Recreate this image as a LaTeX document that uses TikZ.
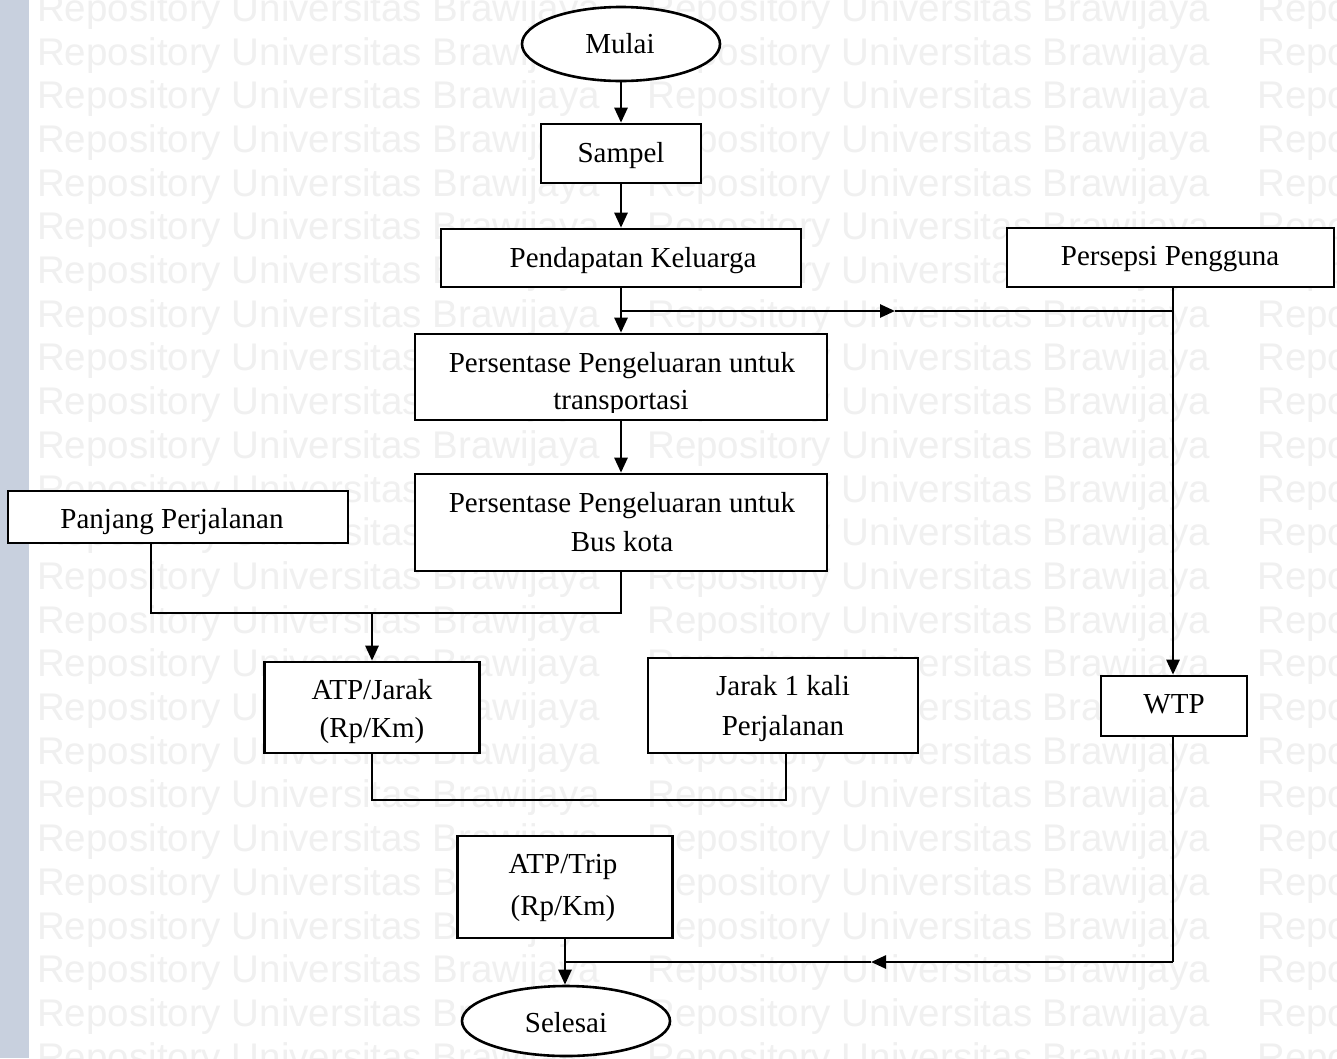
\documentclass[tikz,border=0pt]{standalone}
\usepackage{fontspec}
\setmainfont{Liberation Serif}
\newfontfamily\wmfont{Liberation Sans}
\usetikzlibrary{arrows.meta,shapes.geometric}
\definecolor{wmgray}{RGB}{240,240,240}
\definecolor{stripblue}{RGB}{200,208,222}
\begin{document}
\begin{tikzpicture}[x=1pt,y=-1pt,
  box/.style={draw, line width=2.6pt, fill=white, inner sep=0pt},
  term/.style={ellipse, draw, line width=2.6pt, fill=white, inner sep=0pt},
  lbl/.style={anchor=base, inner sep=0pt, font=\fontsize{29}{35}\selectfont},
  flow/.style={line width=2.6pt, -{Triangle[length=15pt,width=13pt]}},
  link/.style={line width=1.4pt},
  wm/.style={anchor=base west, inner sep=0pt, text=wmgray, font=\wmfont\fontsize{38.5}{40}\selectfont}]

% page and background watermark
\useasboundingbox (0,0) rectangle (1337,1058);
\fill[white] (0,0) rectangle (1337,1058);
\fill[stripblue] (0,0) rectangle (29,1058);
\foreach \r in {0,...,24}
  \foreach \c in {0,1,2}
    \node[wm] (wm-\r-\c) at ({37+610*\c},{21.3+43.7*\r}) {Repository Universitas Brawijaya};

% shapes
\node[term, minimum width=198pt, minimum height=74pt] (mulai) at (621,44) {};
\node[box, minimum width=160pt, minimum height=59pt] (sampel) at (621,153.5) {};
\node[box, minimum width=360pt, minimum height=58pt] (pend) at (621,258) {};
\node[box, minimum width=327pt, minimum height=59pt] (pers) at (1170.5,257.5) {};
\node[box, minimum width=412pt, minimum height=86pt] (tr) at (621,377) {};
\node[box, minimum width=412pt, minimum height=97pt] (bus) at (621,522.5) {};
\node[box, minimum width=340pt, minimum height=52pt] (pj) at (178,517) {};
\node[box, minimum width=215pt, minimum height=91pt] (atpj) at (372,707.5) {};
\node[box, minimum width=270pt, minimum height=95pt] (jr) at (783,705.5) {};
\node[box, minimum width=146pt, minimum height=60pt] (wtp) at (1174,706) {};
\node[box, minimum width=215pt, minimum height=102pt] (atpt) at (565,887) {};
\node[term, minimum width=208pt, minimum height=70pt] (selesai) at (566,1021) {};

% labels
\node[lbl] (l-mulai) at (620,53) {Mulai};
\node[lbl] (l-sampel) at (621,162) {Sampel};
\node[lbl] (l-pend) at (633,267) {Pendapatan Keluarga};
\node[lbl] (l-pers) at (1170,265) {Persepsi Pengguna};
\node[lbl] (l-tr1) at (622,372) {Persentase Pengeluaran untuk};
\begin{scope}
  \clip (416,334) rectangle (828,412.5);
  \node[lbl] (l-tr2) at (621,409) {transportasi};
\end{scope}
\node[lbl] (l-bus1) at (622,512) {Persentase Pengeluaran untuk};
\node[lbl] (l-bus2) at (622,551) {Bus kota};
\node[lbl] (l-pj) at (172,528) {Panjang Perjalanan};
\node[lbl] (l-atpj1) at (372,699) {ATP/Jarak};
\node[lbl] (l-atpj2) at (372,737) {(Rp/Km)};
\node[lbl] (l-jr1) at (783,695) {Jarak 1 kali};
\node[lbl] (l-jr2) at (783,735) {Perjalanan};
\node[lbl] (l-wtp) at (1174,713) {WTP};
\node[lbl] (l-atpt1) at (563,873) {ATP/Trip};
\node[lbl] (l-atpt2) at (563,915) {(Rp/Km)};
\node[lbl] (l-selesai) at (566,1032) {Selesai};

% junction points
\coordinate (fork) at (621,311);
\coordinate (tipA) at (895,311);
\coordinate (rx) at (1173,0);
\coordinate (pjx) at (151,613);
\coordinate (jrx) at (786,800);
\coordinate (corner) at (1173,962);
\coordinate (tipB) at (871,962);
\coordinate (merge) at (565,962);

% main column
\draw[flow] (mulai.south) -- (mulai.south |- sampel.north);
\draw[flow] (sampel.south) -- (sampel.south |- pend.north);
\draw[flow] (pend.south) -- (pend.south |- tr.north);
\draw[flow] (tr.south) -- (tr.south |- bus.north);

% branch to user perception and WTP
\draw[flow] (fork) -- (tipA);
\draw[link] (tipA) -- (rx |- tipA);
\draw[flow] (rx |- pers.south) -- (rx |- wtp.north);

% inputs to ATP per distance
\draw[link] (pjx |- pj.south) -- (pjx) -- (bus.south |- pjx) -- (bus.south);
\draw[flow] (atpj.north |- pjx) -- (atpj.north);

% ATP per distance with trip length
\draw[link] (atpj.south) -- (atpj.south |- jrx) -- (jrx) -- (jrx |- jr.south);

% WTP back to the end
\draw[link] (rx |- wtp.south) -- (corner);
\draw[flow] (corner) -- (tipB);
\draw[link] (tipB) -- (merge);
\draw[flow] (atpt.south) -- (atpt.south |- selesai.north);
\end{tikzpicture}
\end{document}
